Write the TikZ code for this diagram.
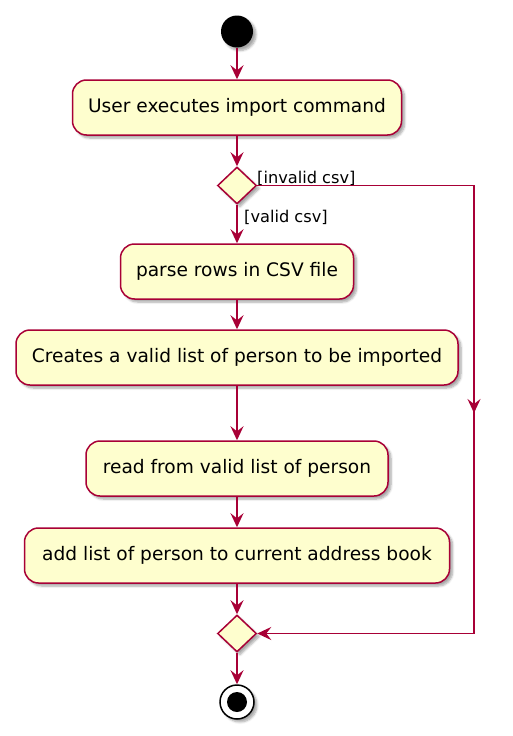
\documentclass[tikz,border=0pt]{standalone}
\usepackage{fontspec}
\setmainfont{DejaVu Sans}
\usetikzlibrary{arrows.meta,shapes.geometric,shadows,shadows.blur}
\definecolor{umlfill}{HTML}{FEFECE}
\definecolor{umlline}{HTML}{A80036}
\begin{document}
\begin{tikzpicture}[x=1pt,y=-1pt,
  shad/.style={blur shadow={shadow xshift=3pt,shadow yshift=-3pt,shadow blur steps=6,shadow opacity=35}},
  act/.style={rectangle,rounded corners=14pt,draw=umlline,fill=umlfill,line width=1.5pt,
    minimum height=55pt,inner sep=0pt,font=\fontsize{18.6}{21}\selectfont,shad},
  dec/.style={diamond,draw=umlline,fill=umlfill,line width=1.5pt,minimum width=39pt,
    minimum height=37pt,inner sep=0pt,shad},
  flow/.style={draw=umlline,line width=1.5pt,-{Stealth[length=14pt,width=13pt,inset=5pt]}},
  branchline/.style={draw=umlline,line width=1.5pt},
  guard/.style={font=\fontsize{16.2}{18}\selectfont,inner sep=0pt}]
\useasboundingbox (0,0) rectangle (513,736);
\node[circle,fill=black,minimum size=32pt,inner sep=0pt,shad] (start) at (237,31.5) {};
\node[act,minimum width=329pt] (a1) at (237,107.5) {User executes import command};
\node[dec] (d1) at (237,185.5) {};
\node[act,minimum width=233pt] (a2) at (237,271.5) {parse rows in CSV file};
\node[act,minimum width=442pt] (a3) at (237,357.5) {Creates a valid list of person to be imported};
\node[act,minimum width=302pt] (a4) at (237,468.5) {read from valid list of person};
\node[act,minimum width=425pt] (a5) at (237,555.5) {add list of person to current address book};
\node[dec] (d2) at (237,633.5) {};
\node[circle,draw=black,fill=white,line width=1.5pt,minimum size=34pt,inner sep=0pt,shad] (end) at (237,702) {};
\node[circle,fill=black,minimum size=20pt,inner sep=0pt] (endin) at (end.center) {};
\node[guard,anchor=base west] (linv) at (257,183) {[invalid csv]};
\node[guard,anchor=base west] (lval) at (244,222) {[valid csv]};
\coordinate (r1) at (474,185.5);
\coordinate (rm) at (474,413);
\coordinate (r2) at (474,633.5);
\path[flow] (start) -- (a1);
\path[flow] (a1) -- (d1);
\path[flow] (d1) -- (a2);
\path[flow] (a2) -- (a3);
\path[flow] (a3) -- (a4);
\path[flow] (a4) -- (a5);
\path[flow] (a5) -- (d2);
\path[flow] (d2) -- (end);
\path[branchline] (d1.east) -- (r1) -- (r2);
\path[flow] (r1) -- (rm);
\path[flow] (r2) -- (d2.east);
\end{tikzpicture}
\end{document}
